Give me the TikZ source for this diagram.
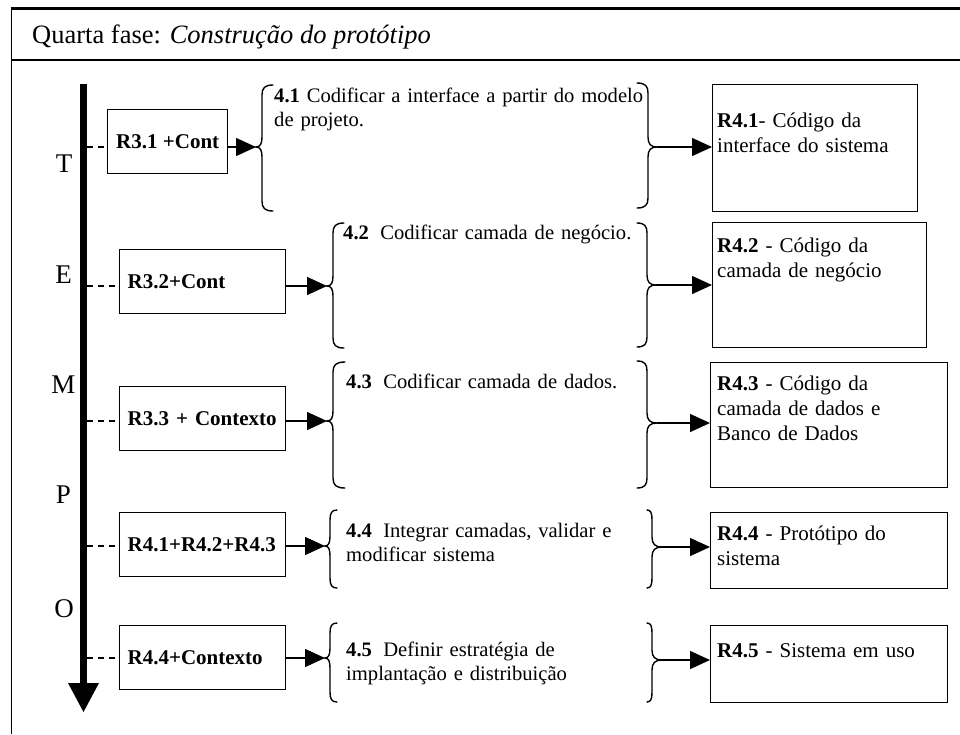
\documentclass[tikz,border=0pt]{standalone}
\usepackage{fontspec}
\setmainfont{Liberation Serif}
\usetikzlibrary{arrows.meta}

% Curly brace drawn as one path:
% #1 end x, #2 spine x, #3 tip x, #4 top y, #5 tip y, #6 bottom y
\newcommand\tBrace[6]{%
  \draw[bracepath] (#1,#4) .. controls ({#2+0.25*(#1-#2)},#4) and (#2,{#4+3}) .. (#2,{#4+10})
    -- (#2,{#5-10}) .. controls (#2,{#5-3}) and ({#2+0.3*(#3-#2)},#5) .. (#3,#5)
    .. controls ({#2+0.3*(#3-#2)},#5) and (#2,{#5+3}) .. (#2,{#5+10})
    -- (#2,{#6-10}) .. controls (#2,{#6-3}) and ({#2+0.25*(#1-#2)},#6) .. (#1,#6);}

\tikzset{
  bracepath/.style={line width=1.4pt, line cap=round},
  lbox/.style={draw, line width=1.4pt, rectangle, anchor=north west, minimum height=64pt,
    font=\fontsize{21}{25}\selectfont\bfseries},
  rbox/.style={draw, line width=1.4pt, rectangle, anchor=north west},
  steptext/.style={anchor=base west, inner sep=0pt, text width=420pt, align=left,
    font=\fontsize{20.6}{24}\selectfont},
  restext/.style={anchor=base west, inner sep=0pt, text width=230pt, align=left,
    font=\fontsize{21}{25}\selectfont},
  letter/.style={anchor=base, inner sep=0pt, font=\fontsize{27}{30}\selectfont},
  arr/.style={line width=1.4pt, -{Triangle[length=20pt,width=18pt]}},
  dashline/.style={line width=1.3pt, dash pattern=on 6pt off 5pt},
}

\begin{document}
\begin{tikzpicture}[x=1pt,y=-1pt]
\useasboundingbox (0,0) rectangle (960,734);

% frame and header
\draw[line width=1.6pt] (11.5,734) -- (11.5,8.5);
\draw[line width=2.2pt] (10.5,8.5) -- (960,8.5);
\draw[line width=1.5pt] (11.5,60) -- (960,60);
\node[anchor=base west, inner sep=0pt, font=\fontsize{26.5}{30}\selectfont] (title) at (32,43)
  {Quarta fase: \textit{Construção do protótipo}};

% time axis
\coordinate (axtop) at (83.5,84);
\coordinate (axend) at (83.5,712);
\coordinate (ax) at (87,0);
\draw[line width=7pt, -{Triangle[length=29pt,width=31pt,line width=0pt]}] (axtop) -- (axend);
\node[letter] (lT) at (64,172) {T};
\node[letter] (lE) at (63.5,283) {E};
\node[letter] (lM) at (63.5,393) {M};
\node[letter] (lP) at (63.5,503) {P};
\node[letter] (lO) at (64,617) {O};

% inputs
\node[lbox, minimum width=120pt, inner xsep=4pt] (lb1) at (107,109) {R3.1 +Cont};
\node[lbox, text width=150pt, inner xsep=8pt, align=left] (lb2) at (119,249) {R3.2+Cont};
\node[lbox, text width=150pt, inner xsep=8pt, align=left] (lb3) at (119,386) {R3.3 + Contexto};
\node[lbox, text width=150pt, inner xsep=8pt, align=left] (lb4) at (119,512) {R4.1+R4.2+R4.3};
\node[lbox, text width=150pt, inner xsep=8pt, align=left] (lb5) at (119,625) {R4.4+Contexto};

% results
\node[rbox, minimum width=205pt, minimum height=127pt] (rb1) at (712,84) {};
\node[rbox, minimum width=214pt, minimum height=125pt] (rb2) at (712,222) {};
\node[rbox, minimum width=237pt, minimum height=125pt] (rb3) at (710,362) {};
\node[rbox, minimum width=237pt, minimum height=76pt] (rb4) at (710,512) {};
\node[rbox, minimum width=237pt, minimum height=77pt] (rb5) at (710,625) {};

\node[restext] (rt1) at (717,127) {\textbf{R4.1}- Código da\\interface do sistema};
\node[restext] (rt2) at (717,252) {\textbf{R4.2} - Código da\\camada de negócio};
\node[restext] (rt3) at (717,390) {\textbf{R4.3} - Código da\\camada de dados e\\Banco de Dados};
\node[restext] (rt4) at (717,540) {\textbf{R4.4} - Protótipo do\\sistema};
\node[restext] (rt5) at (717,657) {\textbf{R4.5} - Sistema em uso};

% activities
\node[steptext] (s1) at (274,102) {\textbf{4.1} Codificar a interface a partir do modelo\\de projeto.};
\node[steptext] (s2) at (343,239) {\textbf{4.2}\hspace{0.55em}Codificar camada de negócio.};
\node[steptext] (s3) at (346,388) {\textbf{4.3}\hspace{0.55em}Codificar camada de dados.};
\node[steptext] (s4) at (346,537) {\textbf{4.4}\hspace{0.55em}Integrar camadas, validar e\\modificar sistema};
\node[steptext] (s5) at (346,656) {\textbf{4.5}\hspace{0.55em}Definir estratégia de\\implantação e distribuição};

% brace tips
\coordinate (a1) at (256,147);
\coordinate (a2) at (327,286);
\coordinate (a3) at (327,421);
\coordinate (a4) at (325,546);
\coordinate (a5) at (325,658);
\coordinate (b1) at (657,147);
\coordinate (b2) at (656,285);
\coordinate (b3) at (657,423);
\coordinate (b4) at (662,547);
\coordinate (b5) at (662,660);

% opening braces
\tBrace{273}{262}{256}{85}{147}{211}
\tBrace{344}{333}{327}{223}{286}{348}
\tBrace{345}{333}{327}{362}{421}{488}
\tBrace{337}{330}{325}{510}{546}{588}
\tBrace{337}{330}{325}{623}{658}{702}
% closing braces
\tBrace{637}{648}{657}{83}{147}{208}
\tBrace{637}{647}{656}{223}{285}{347}
\tBrace{637}{647}{657}{361}{423}{488}
\tBrace{647}{652}{662}{510}{547}{588}
\tBrace{647}{652}{662}{623}{660}{702}

% timeline links
\draw[dashline] (ax |- a1) -- (lb1.west |- a1);
\draw[dashline] (ax |- a2) -- (lb2.west |- a2);
\draw[dashline] (ax |- a3) -- (lb3.west |- a3);
\draw[dashline] (ax |- a4) -- (lb4.west |- a4);
\draw[dashline] (ax |- a5) -- (lb5.west |- a5);

% inputs to activities
\draw[arr] (lb1.east |- a1) -- (a1);
\draw[arr] (lb2.east |- a2) -- (a2);
\draw[arr] (lb3.east |- a3) -- (a3);
\draw[arr] (lb4.east |- a4) -- (a4);
\draw[arr] (lb5.east |- a5) -- (a5);

% activities to results
\draw[arr] (b1) -- (rb1.west |- b1);
\draw[arr] (b2) -- (rb2.west |- b2);
\draw[arr] (b3) -- (rb3.west |- b3);
\draw[arr] (b4) -- (rb4.west |- b4);
\draw[arr] (b5) -- (rb5.west |- b5);
\end{tikzpicture}
\end{document}
